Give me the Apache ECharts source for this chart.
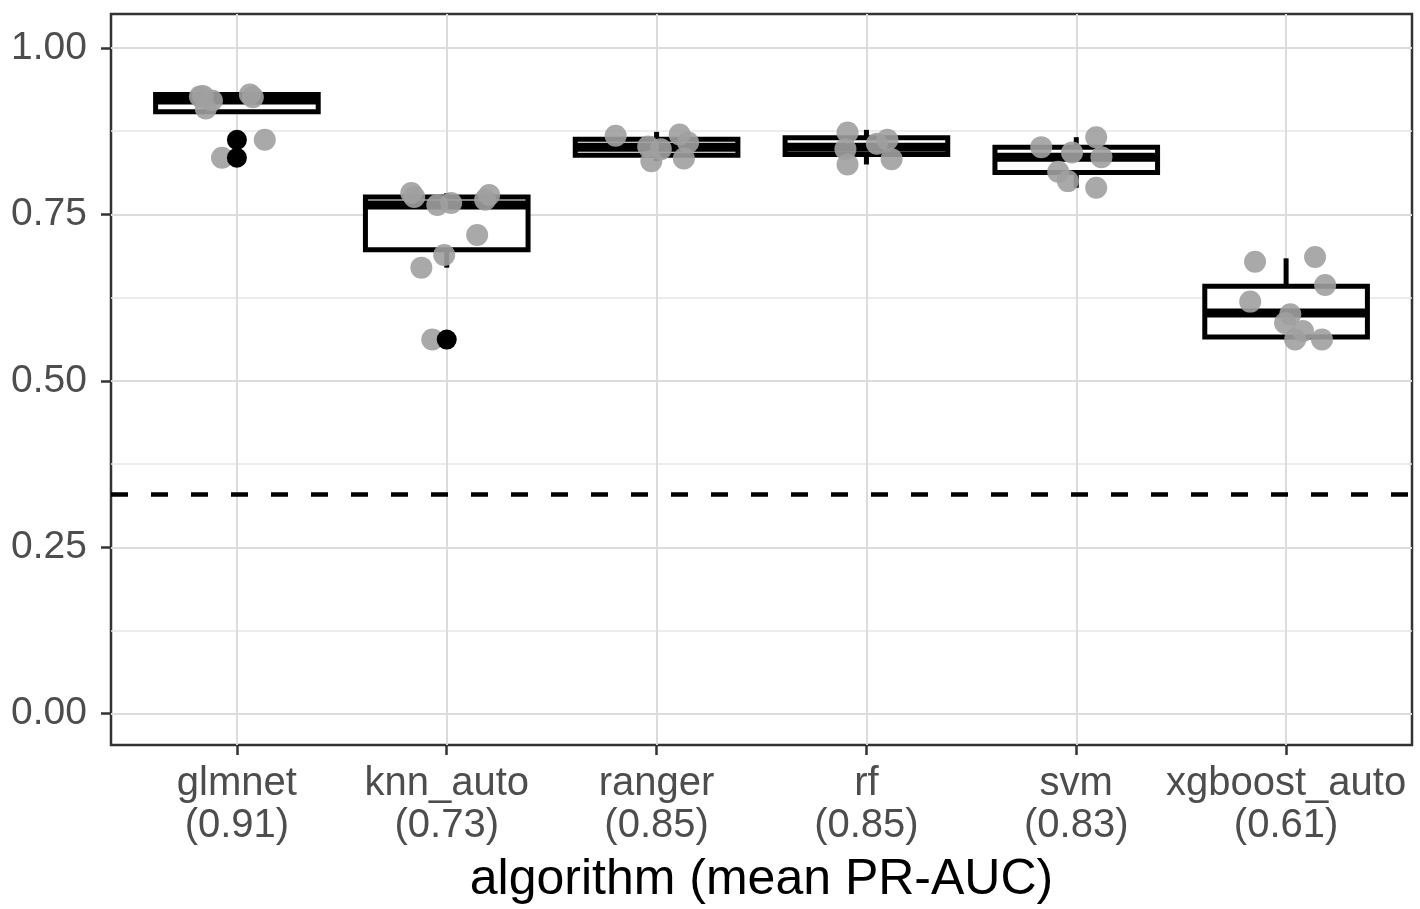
<!DOCTYPE html>
<html>
<head>
<meta charset="UTF-8">
<title>PR-AUC by algorithm</title>
<script src="https://cdn.jsdelivr.net/npm/echarts@6.0.0/dist/echarts.min.js"></script>
<style>
  html, body { margin: 0; padding: 0; background: #fff; }
  #main { width: 1420px; height: 909px; }
</style>
</head>
<body>
<div id="main"></div>
<script type="text/javascript">
// data
var algorithms = ['glmnet', 'knn_auto', 'ranger', 'rf', 'svm', 'xgboost_auto'];
var meanPrAuc = [0.91, 0.73, 0.85, 0.85, 0.83, 0.61];
var yTicks = [0, 0.25, 0.5, 0.75, 1];
var yMinorTicks = [0.125, 0.375, 0.625, 0.875];
var baseline = 0.333;

// box stats: [lower whisker, Q1, median, Q3, upper whisker]
var glmnetBox  = [0.904, 0.904, 0.922, 0.930, 0.930];
var knnBox     = [0.670, 0.697, 0.764, 0.776, 0.782];
var rangerBox  = [0.830, 0.839, 0.851, 0.863, 0.874];
var rfBox      = [0.825, 0.840, 0.851, 0.865, 0.877];
var svmBox     = [0.790, 0.813, 0.836, 0.851, 0.866];
var xgboostBox = [0.562, 0.566, 0.602, 0.642, 0.684];

// outliers
var glmnetOut = [0.862, 0.835];
var knnOut = [0.562];

// fold scores and their horizontal jitter
var glmnetPts  = [0.927, 0.909, 0.921, 0.926, 0.930, 0.862, 0.835, 0.928];
var glmnetJit  = [-0.176, -0.148, -0.119, 0.076, 0.062, 0.133, -0.071, -0.162];
var knnPts     = [0.782, 0.764, 0.767, 0.779, 0.719, 0.689, 0.670, 0.562, 0.776, 0.772];
var knnJit     = [-0.169, -0.045, 0.021, 0.202, 0.145, -0.012, -0.121, -0.069, -0.155, 0.183];
var rangerPts  = [0.868, 0.852, 0.830, 0.870, 0.858, 0.834, 0.848];
var rangerJit  = [-0.195, -0.040, -0.025, 0.110, 0.150, 0.130, 0.020];
var rfPts      = [0.873, 0.848, 0.825, 0.862, 0.833, 0.856];
var rfJit      = [-0.090, -0.100, -0.090, 0.100, 0.120, 0.050];
var svmPts     = [0.851, 0.814, 0.800, 0.866, 0.836, 0.790, 0.843];
var svmJit     = [-0.167, -0.086, -0.040, 0.095, 0.120, 0.095, -0.020];
var xgboostPts = [0.679, 0.686, 0.644, 0.619, 0.587, 0.562, 0.562, 0.600, 0.575];
var xgboostJit = [-0.148, 0.138, 0.186, -0.171, -0.005, 0.043, 0.171, 0.020, 0.080];

var boxes = [glmnetBox, knnBox, rangerBox, rfBox, svmBox, xgboostBox];
var pts = [glmnetPts, knnPts, rangerPts, rfPts, svmPts, xgboostPts];
var jit = [glmnetJit, knnJit, rangerJit, rfJit, svmJit, xgboostJit];
var outs = [glmnetOut, knnOut, [], [], [], []];

var boxData = boxes.map(function (b, i) { return [i + 1].concat(b); });
var pointData = [];
pts.forEach(function (p, i) {
    p.forEach(function (v, k) { pointData.push([i + 1 + jit[i][k], v]); });
});
var outData = [];
outs.forEach(function (o, i) {
    o.forEach(function (v) { outData.push([i + 1, v]); });
});

var FONT = 'Liberation Sans, Arial, Helvetica, sans-serif';
var catTicks = algorithms.map(function (a, i) { return i + 1; });

function renderBox(params, api) {
    var x = api.value(0);
    var lo = api.coord([x, api.value(1)]);
    var q1 = api.coord([x, api.value(2)]);
    var md = api.coord([x, api.value(3)]);
    var q3 = api.coord([x, api.value(4)]);
    var hi = api.coord([x, api.value(5)]);
    var half = api.size([0.775, 0])[0] / 2;
    var line = { stroke: '#000', lineWidth: 5 };
    return {
        type: 'group',
        children: [
            { type: 'line', shape: { x1: hi[0], y1: hi[1], x2: q3[0], y2: q3[1] }, style: line },
            { type: 'line', shape: { x1: lo[0], y1: lo[1], x2: q1[0], y2: q1[1] }, style: line },
            { type: 'rect', shape: { x: q3[0] - half, y: q3[1], width: half * 2, height: q1[1] - q3[1] },
              style: { fill: '#fff', stroke: '#000', lineWidth: 5 } },
            { type: 'line', shape: { x1: md[0] - half, y1: md[1], x2: md[0] + half, y2: md[1] },
              style: { stroke: '#000', lineWidth: 9 } }
        ]
    };
}

var myChart = echarts.init(document.getElementById('main'));
var option = {
    animation: false,
    backgroundColor: '#fff',
    grid: {
        left: 111, right: 8, top: 14, bottom: 164,
        outerBoundsMode: 'none',
        show: true, borderColor: '#333', borderWidth: 2.5, backgroundColor: 'transparent'
    },
    xAxis: {
        type: 'value', min: 0.4, max: 6.6,
        name: 'algorithm (mean PR-AUC)',
        nameLocation: 'middle', nameGap: 110,
        nameTextStyle: { fontFamily: FONT, fontSize: 50, color: '#000' },
        axisLine: { show: false, onZero: false },
        axisTick: { show: true, customValues: catTicks, length: 10, lineStyle: { color: '#333', width: 2.5 } },
        axisLabel: {
            customValues: catTicks, margin: 18,
            fontFamily: FONT, fontSize: 40, lineHeight: 42, color: '#4d4d4d',
            formatter: function (v) {
                var i = Math.round(v) - 1;
                return algorithms[i] + '\n(' + meanPrAuc[i].toFixed(2) + ')';
            }
        },
        splitLine: { show: true, lineStyle: { color: '#dcdcdc', width: 2 } }
    },
    yAxis: [{
        type: 'value', min: -0.047, max: 1.051,
        axisLine: { show: false, onZero: false },
        axisTick: { show: true, customValues: yTicks, length: 10, lineStyle: { color: '#333', width: 2.5 } },
        axisLabel: {
            customValues: yTicks, margin: 24,
            fontFamily: FONT, fontSize: 39, color: '#4d4d4d',
            formatter: function (v) { return v.toFixed(2); }
        },
        splitLine: { show: true, lineStyle: { color: '#dcdcdc', width: 2 } }
    }, {
        type: 'value', min: -0.047, max: 1.051, position: 'left',
        axisLine: { show: false, onZero: false },
        axisTick: { show: false, customValues: yMinorTicks },
        axisLabel: { show: false, customValues: yMinorTicks },
        splitLine: { show: true, lineStyle: { color: '#e6e6e6', width: 1.5 } }
    }],
    series: [{
        type: 'custom',
        renderItem: renderBox,
        encode: { x: 0, y: [1, 2, 3, 4, 5] },
        data: boxData,
        z: 2
    }, {
        type: 'scatter',
        data: pointData,
        symbolSize: 22,
        itemStyle: { color: '#a0a0a0', opacity: 0.9 },
        z: 3,
        markLine: {
            silent: true, symbol: 'none', label: { show: false },
            lineStyle: { color: '#000', width: 4.5, type: [17, 23] },
            data: [{ yAxis: baseline }]
        }
    }, {
        type: 'scatter',
        data: outData,
        symbolSize: 20,
        itemStyle: { color: '#000', opacity: 1 },
        z: 4
    }]
};
myChart.setOption(option);
</script>
</body>
</html>
